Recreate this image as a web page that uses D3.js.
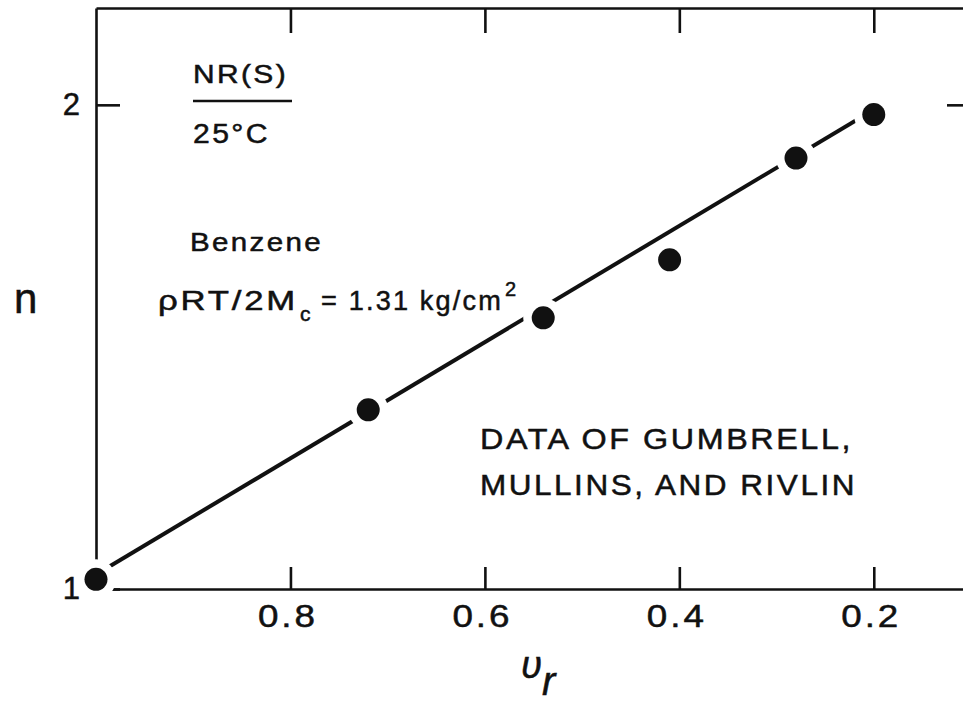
<!DOCTYPE html>
<html>
<head>
<meta charset="utf-8">
<script src="https://cdn.jsdelivr.net/npm/d3@7"></script>
<style>
  html, body { margin: 0; padding: 0; background: #fff; }
  svg { display: block; }
  text { font-family: "Liberation Sans", Arial, sans-serif; fill: #111; }
</style>
</head>
<body>
<svg id="chart" width="963" height="704"></svg>
<script>
// Swelling data: volume fraction of rubber v_r vs. n
const vr = [1.0, 0.72, 0.54, 0.41, 0.28, 0.20];
const nVals = [1.02, 1.37, 1.56, 1.68, 1.89, 1.98];

// Straight line drawn through the points
const fitVr = [1.0, 0.2];
const fitN = [1.03, 1.99];

// Tick values and labels
const xTicks = [0.8, 0.6, 0.4, 0.2];
const xTickLabels = ["0.8", "0.6", "0.4", "0.2"];
const yTicks = [1, 2];
const yTickLabels = ["1", "2"];

(function draw() {
  const svg = d3.select("#chart");
  const W = 963, H = 704;
  const plotLeft = 96, plotRight = 971, plotTop = 8, plotBottom = 589;

  const x = d3.scaleLinear().domain([1.0, 0.1]).range([plotLeft, plotRight]);
  const y = d3.scaleLinear().domain([1, 2.2]).range([plotBottom, plotTop]);

  svg.append("rect").attr("width", W).attr("height", H).attr("fill", "#fff");

  const ink = "#111";

  // Lettering: thin outline on top of the fill, wide glyphs
  function letter(sel) {
    return sel.attr("stroke", ink).attr("stroke-width", 0.5)
      .attr("letter-spacing", "0.08em");
  }

  // Frame axes with inward ticks
  function styleAxis(g, width) {
    g.selectAll("path.domain").attr("stroke", ink).attr("stroke-width", width);
    g.selectAll(".tick line").attr("stroke", ink).attr("stroke-width", width);
  }

  const gBottom = svg.append("g").attr("transform", `translate(0,${plotBottom})`)
    .call(d3.axisBottom(x).tickValues(xTicks).tickSizeInner(-22).tickSizeOuter(0)
          .tickPadding(15).tickFormat((d, i) => xTickLabels[i]));
  styleAxis(gBottom, 2.6);
  gBottom.selectAll(".tick text")
    .attr("font-size", 32).attr("fill", ink)
    .attr("font-family", "'Liberation Sans', Arial, sans-serif")
    .attr("x", -3)
    .call(letter)
    .attr("textLength", 60).attr("lengthAdjust", "spacingAndGlyphs");

  const gTop = svg.append("g").attr("transform", `translate(0,${plotTop})`)
    .call(d3.axisTop(x).tickValues(xTicks).tickSizeInner(-25).tickSizeOuter(0).tickFormat(""));
  styleAxis(gTop, 2.6);

  const gLeft = svg.append("g").attr("transform", `translate(${plotLeft},0)`)
    .call(d3.axisLeft(y).tickValues(yTicks).tickSizeInner(-24).tickSizeOuter(0)
          .tickPadding(16).tickFormat((d, i) => yTickLabels[i]));
  styleAxis(gLeft, 2.6);
  gLeft.selectAll(".tick text")
    .attr("font-size", 31).attr("fill", ink)
    .attr("font-family", "'Liberation Sans', Arial, sans-serif")
    .attr("stroke", ink).attr("stroke-width", 0.5);

  const gRight = svg.append("g").attr("transform", `translate(${plotRight},0)`)
    .call(d3.axisRight(y).tickValues([2]).tickSizeInner(-24).tickSizeOuter(0).tickFormat(""));
  styleAxis(gRight, 2.6);

  // Fitted line
  const line = d3.line().x(d => x(d[0])).y(d => y(d[1]));
  svg.append("path")
    .datum(fitVr.map((v, i) => [v, fitN[i]]))
    .attr("d", line)
    .attr("fill", "none").attr("stroke", ink).attr("stroke-width", 4);

  // White gaps around each point, then the filled points
  const pts = vr.map((v, i) => [v, nVals[i]]);
  svg.append("g").selectAll("circle").data(pts).join("circle")
    .attr("cx", d => x(d[0])).attr("cy", d => y(d[1]))
    .attr("r", 20).attr("fill", "#fff");
  svg.append("g").selectAll("circle").data(pts).join("circle")
    .attr("cx", d => x(d[0])).attr("cy", d => y(d[1]))
    .attr("r", 11.5).attr("fill", ink);

  // Axis titles
  svg.append("text").attr("x", 14).attr("y", 313).attr("font-size", 42)
    .attr("stroke", ink).attr("stroke-width", 0.5).text("n");

  const xl = svg.append("text").attr("x", 521).attr("y", 678)
    .attr("font-family", "'DejaVu Sans', sans-serif").attr("font-style", "italic")
    .attr("stroke", ink).attr("stroke-width", 0.5);
  xl.append("tspan").attr("font-size", 38).text("υ");
  xl.append("tspan").attr("font-size", 40).attr("dy", 17).text("r");

  // Annotations
  const ann = svg.append("g");
  function label(x0, y0, size, len, str) {
    return ann.append("text").attr("x", x0).attr("y", y0).attr("font-size", size)
      .call(letter)
      .attr("textLength", len).attr("lengthAdjust", "spacingAndGlyphs").text(str);
  }
  label(193, 83, 25, 95, "NR(S)");
  ann.append("line").attr("x1", 193).attr("x2", 292).attr("y1", 101).attr("y2", 101)
    .attr("stroke", ink).attr("stroke-width", 2.6);
  label(193, 143, 27, 77, "25°C");

  label(190, 251, 25, 133, "Benzene");

  label(158, 310, 27, 140, "ρRT/2M");
  ann.append("text").attr("x", 300).attr("y", 321).attr("font-size", 21)
    .attr("stroke", ink).attr("stroke-width", 0.5).text("c");
  label(321, 310, 27, 182, "= 1.31 kg/cm");
  ann.append("text").attr("x", 505).attr("y", 296).attr("font-size", 20)
    .attr("stroke", ink).attr("stroke-width", 0.5).text("2");

  label(480, 449, 29, 373, "DATA OF GUMBRELL,");
  label(480, 495, 29, 377, "MULLINS, AND RIVLIN");
})();
</script>
</body>
</html>
